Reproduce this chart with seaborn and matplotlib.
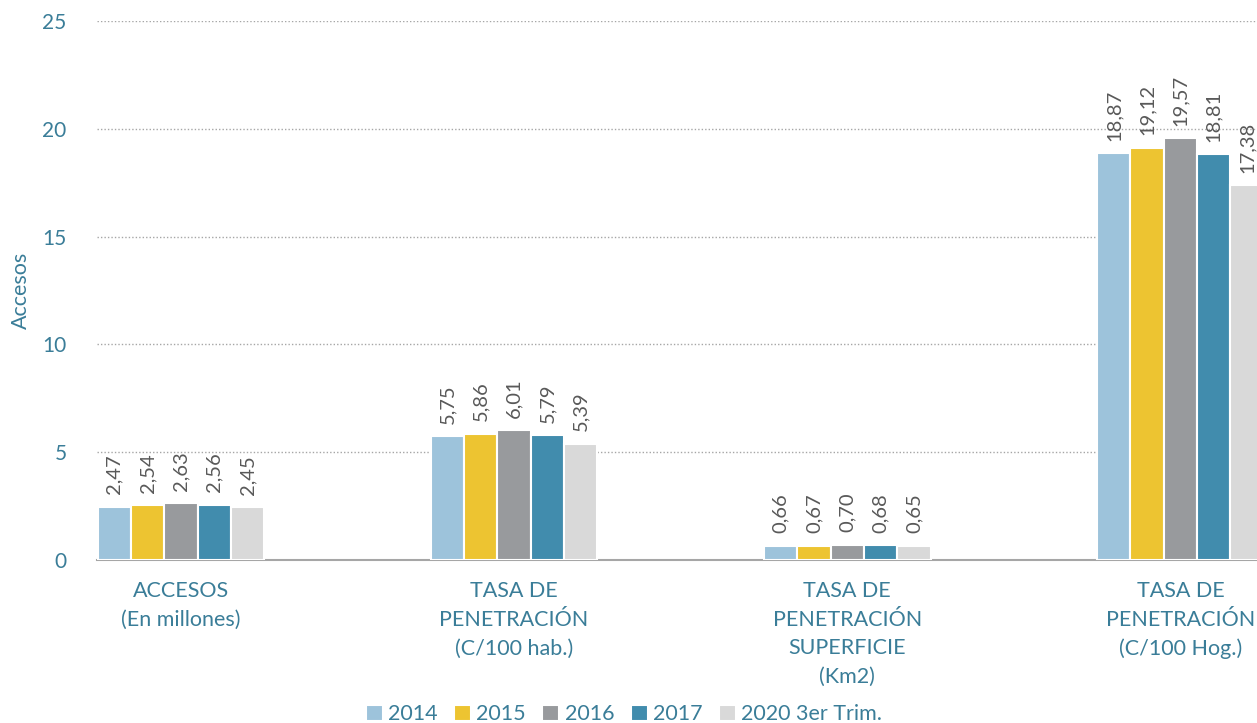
import matplotlib
matplotlib.use("Agg")
import matplotlib.pyplot as plt
import seaborn as sns
import pandas as pd

categories = ["ACCESOS\n(En millones)", "TASA DE\nPENETRACIÓN\n(C/100 hab.)",
              "TASA DE\nPENETRACIÓN\nSUPERFICIE\n(Km2)", "TASA DE\nPENETRACIÓN\n(C/100 Hog.)"]
series_names = ["2014", "2015", "2016", "2017", "2020 3er Trim."]
v2014 = [2.47, 5.75, 0.66, 18.87]
v2015 = [2.54, 5.86, 0.67, 19.12]
v2016 = [2.63, 6.01, 0.70, 19.57]
v2017 = [2.56, 5.79, 0.68, 18.81]
v2020 = [2.45, 5.39, 0.65, 17.38]
colors = ["#9DC3DB", "#EDC431", "#989A9D", "#418CAD", "#D9D9D9"]

rows = []
for name, vals in zip(series_names, [v2014, v2015, v2016, v2017, v2020]):
    for c, v in zip(categories, vals):
        rows.append({"cat": c, "serie": name, "val": v})
df = pd.DataFrame(rows)

sns.set_style("white")
plt.rcParams['font.family'] = ['Lato', 'DejaVu Sans']
teal = "#3A7D98"

fig = plt.figure(figsize=(12.57, 7.23), dpi=100)
ax = fig.add_axes([97/1257, 1-560/723, (1257-97)/1257, (560-21)/723])
sns.barplot(data=df, x="cat", y="val", hue="serie", palette=colors, width=0.5,
            saturation=1, edgecolor="white", linewidth=1.5, ax=ax, legend=True, zorder=3)

for cont in ax.containers:
    labels = [f"{v:.2f}".replace(".", ",") for v in cont.datavalues]
    ax.bar_label(cont, labels=labels, rotation=90, padding=9, color="#595959", fontsize=14.5)

ax.set_ylim(0, 25)
ax.set_xlim(-0.252, 3.23)
ax.set_yticks([0, 5, 10, 15, 20, 25])
ax.yaxis.grid(True, linestyle=(0, (1, 1.5)), color="#A6A6A6", linewidth=1, zorder=0)
ax.set_axisbelow(True)
for s in ["top", "right", "left"]:
    ax.spines[s].set_visible(False)
ax.spines["bottom"].set_color("#A6A6A6")
ax.spines["bottom"].set_linewidth(1.5)
ax.tick_params(axis="y", length=0, labelsize=15, labelcolor=teal, pad=22)
ax.tick_params(axis="x", length=0, labelsize=15.5, labelcolor=teal, pad=15)
ax.set_xlabel("")
ax.set_ylabel("Accesos", color=teal, fontsize=15.5)
ax.yaxis.set_label_coords(-66/1160, 0.5)
for t in ax.get_xticklabels():
    t.set_linespacing(1.55)
    t.set_va("top")

ax.legend(loc="lower center", bbox_to_anchor=(0.5 + (624 - 677)/1160, -0.325),
          ncol=5, frameon=False, fontsize=15.5, handlelength=0.8, handleheight=0.8,
          handletextpad=0.25, columnspacing=0.75, labelcolor=teal, borderpad=0)

fig.savefig("out.png", dpi=100)
